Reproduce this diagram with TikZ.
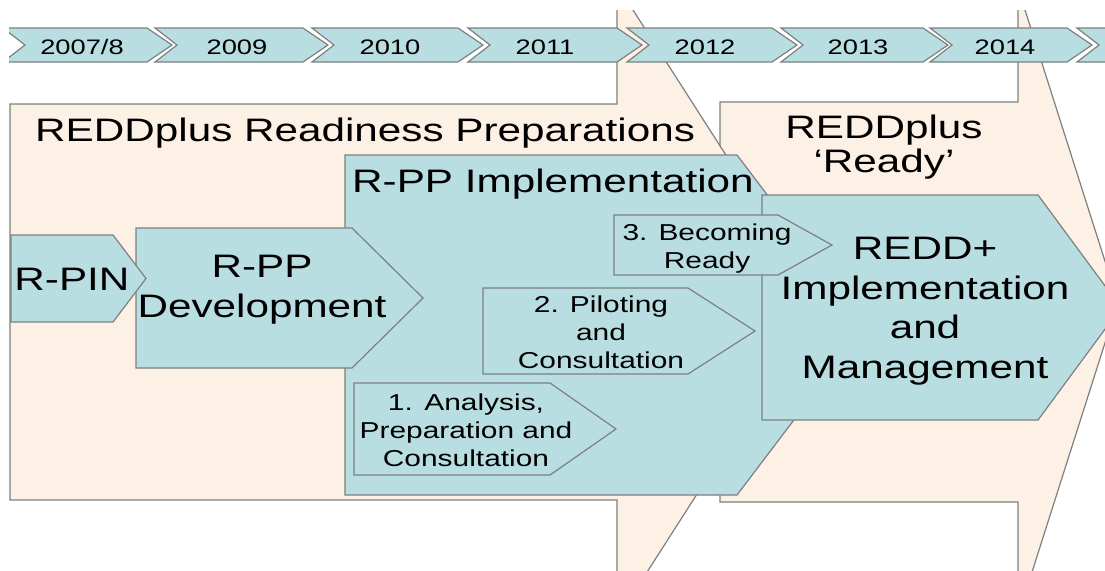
\documentclass[tikz,border=0pt]{standalone}
\usepackage{fontspec}
\setmainfont{Liberation Sans}[FakeStretch=1.3]
\definecolor{peach}{RGB}{253,240,228}
\definecolor{teal}{RGB}{185,222,226}
\definecolor{edge}{RGB}{125,128,128}
\begin{document}
\begin{tikzpicture}
			[x=1pt,y=-1pt,
			 box/.style= {draw=edge,line width=1.2pt,fill=teal},
			 area/.style= {draw=edge,line width=1.2pt,fill=peach},
			 big/.style= {font=\fontsize{32.5}{40}\selectfont,align=center,inner sep=0pt,anchor=base},
			 small/.style= {font=\fontsize{23}{28}\selectfont,align=center,inner sep=0pt,anchor=base},
			 yr/.style= {font=\fontsize{21}{25}\selectfont,inner sep=0pt,anchor=base}]

			\useasboundingbox (0,0) rectangle (1105,570);
			\clip (9,10) rectangle (1105,570);

			% phases in the background
			\draw[area] (720,502) -- (720,102) -- (1018,102) -- (1018,-12) -- (1118,302) -- (1018,616) -- (1018,502) -- cycle;
			\draw[area] (10,500) -- (10,104) -- (617,104) -- (617,-15) -- (820,302) -- (617,619) -- (617,500) -- cycle;

			% years
			\foreach \l/\r/\c/\t [count=\i] in {3/147/82/{2007/8},155/303/237/2009,312/458/390/2010,468/617/545/2011,
				627/772/705/2012,781/923/858/2013,930/1067/1005/2014,1077/1220/1150/{}}
			{
				\draw[box] (\l,28) -- (\r,28) -- (\r+25,45) -- (\r,62) -- (\l,62) -- (\l+22,45) -- cycle;
				\node[yr] (yr\i) at (\c,54) {\t};
			}

			\draw[box] (345,155) -- (737,155) -- (866,325) -- (737,495) -- (345,495) -- cycle;
			\draw[box] (762,195) -- (1038,195) -- (1121,307.5) -- (1038,420) -- (762,420) -- cycle;
			\draw[box] (136,228) -- (352,228) -- (423,298) -- (352,368) -- (136,368) -- cycle;
			\draw[box] (11,235) -- (113,235) -- (146,278.5) -- (113,322) -- (11,322) -- cycle;
			\draw[box] (354,383) -- (550,383) -- (616,429) -- (550,475) -- (354,475) -- cycle;
			\draw[box] (483,288) -- (688,288) -- (755,331) -- (688,374) -- (483,374) -- cycle;
			\draw[box] (614,215) -- (778,215) -- (832,245) -- (778,275) -- (614,275) -- cycle;

			% text, multi-line nodes sit on their last baseline
			\node[big,anchor=base west] (prep) at (35,141) {REDDplus Readiness Preparations};
			\node[big,font=\fontsize{32.5}{34}\selectfont] (ready) at (884,172) {REDDplus\\‘Ready’};
			\node[big,anchor=base west] (impl) at (352,192) {R-PP Implementation};
			\node[big] (rpin) at (72,290) {R-PIN};
			\node[big] (rpp) at (262,317) {R-PP\\Development};
			\node[big,font=\fontsize{32.5}{39.5}\selectfont] (redd) at (925,378) {REDD+\\Implementation\\and\\Management};
			\node[small] (step1) at (466,466) {1.\enspace Analysis,\\Preparation and\\Consultation};
			\node[small] (step2) at (601,368) {2. Piloting\\and\\Consultation};
			\node[small] (step3) at (707,268) {3. Becoming\\Ready};

		\end{tikzpicture}
\end{document}
